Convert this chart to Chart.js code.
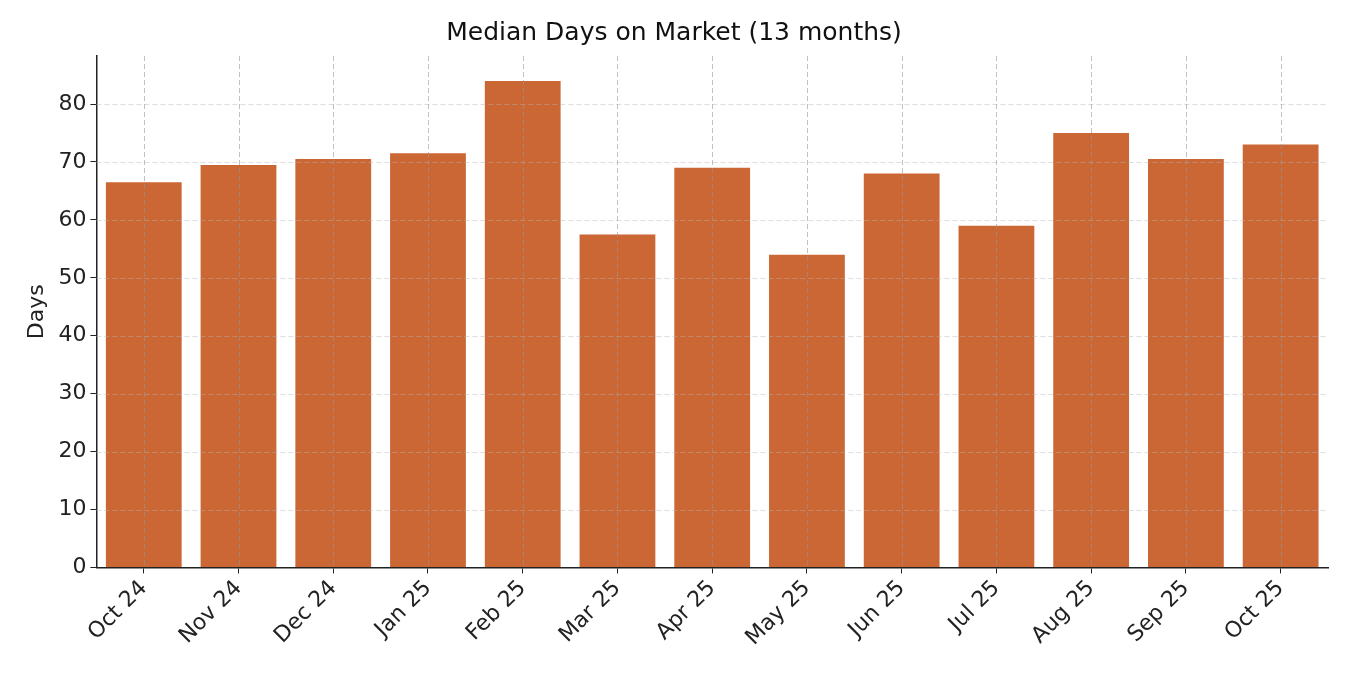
<!DOCTYPE html>
<html>
<head>
<meta charset="utf-8">
<script src="https://cdn.jsdelivr.net/npm/chart.js@4/dist/chart.umd.min.js"></script>
<style>
  html, body { margin: 0; padding: 0; background: #fff; }
  #wrap { width: 1350px; height: 675px; }
</style>
</head>
<body>
<div id="wrap"><canvas id="domChart"></canvas></div>
<script>
// Valeurs
const months = ['Oct 24', 'Nov 24', 'Dec 24', 'Jan 25', 'Feb 25', 'Mar 25', 'Apr 25',
  'May 25', 'Jun 25', 'Jul 25', 'Aug 25', 'Sep 25', 'Oct 25'];
const medianDays = [66.5, 69.5, 70.5, 71.5, 84, 57.5, 69, 54, 68, 59, 75, 70.5, 73];
const yTicks = [0, 10, 20, 30, 40, 50, 60, 70, 80];

Chart.defaults.font.family = 'DejaVu Sans';
Chart.defaults.color = '#222';

// grille pointillée dessinée par-dessus les barres
const gridOnTop = {
  id: 'gridOnTop',
  afterDatasetsDraw(chart) {
    const { ctx, chartArea: a, scales: { x, y } } = chart;
    ctx.save();
    ctx.lineWidth = 1;
    ctx.setLineDash([5, 3]);
    ctx.strokeStyle = 'rgba(180,180,180,0.45)';
    yTicks.forEach(v => {
      if (v === 0) return;
      const py = Math.round(y.getPixelForValue(v)) + 0.5;
      ctx.beginPath(); ctx.moveTo(a.left, py); ctx.lineTo(a.right, py); ctx.stroke();
    });
    ctx.strokeStyle = 'rgba(150,150,150,0.6)';
    months.forEach((m, i) => {
      const px = Math.round(x.getPixelForValue(i)) + 0.5;
      ctx.beginPath(); ctx.moveTo(px, a.top); ctx.lineTo(px, a.bottom); ctx.stroke();
    });
    ctx.restore();
  },
};

new Chart(document.getElementById('domChart'), {
  type: 'bar',
  data: {
    labels: months,
    datasets: [{
      label: 'Days',
      data: medianDays,
      backgroundColor: '#cb6734',
      categoryPercentage: 1,
      barPercentage: 0.8,
    }],
  },
  plugins: [gridOnTop],
  options: {
    responsive: true,
    maintainAspectRatio: false,
    animation: false,
    layout: { padding: { left: 20, right: 22, top: 6, bottom: 22 } },
    plugins: {
      legend: { display: false },
      tooltip: { enabled: false },
      title: {
        display: true,
        text: 'Median Days on Market (13 months)',
        font: { size: 25, weight: 'normal' },
        color: '#111',
        padding: { top: 12, bottom: 8 },
      },
    },
    scales: {
      x: {
        offset: true,
        grid: {
          offset: false,
          drawOnChartArea: false,
          tickLength: 6,
          color: '#222',
        },
        border: { color: '#222', width: 1.5 },
        ticks: {
          font: { size: 22 },
          maxRotation: 45,
          minRotation: 45,
          color: '#222',
          padding: 2,
        },
      },
      y: {
        min: 0,
        max: 88.3,
        afterBuildTicks: (axis) => { axis.ticks = yTicks.map(v => ({ value: v })); },
        grid: { drawOnChartArea: false, tickLength: 6, color: '#222' },
        border: { color: '#222', width: 1.5 },
        ticks: { font: { size: 22 }, color: '#222', padding: 4 },
        title: { display: true, text: 'Days', font: { size: 22 }, color: '#222' },
      },
    },
  },
});
</script>
</body>
</html>
